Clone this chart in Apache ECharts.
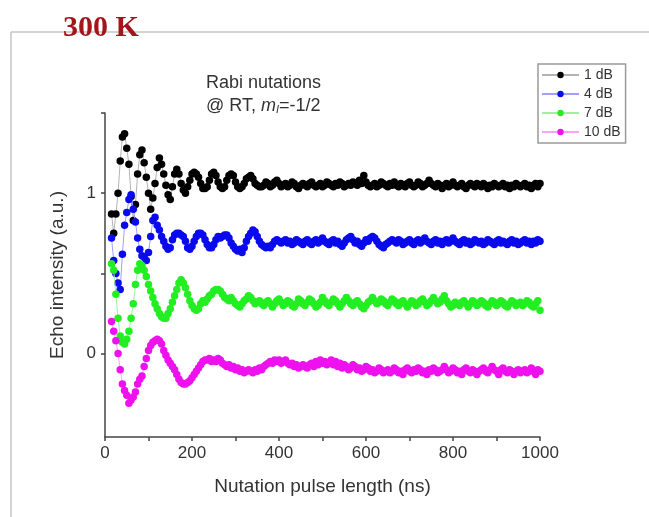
<!DOCTYPE html>
<html>
<head>
<meta charset="utf-8">
<script src="https://cdn.jsdelivr.net/npm/echarts@6/dist/echarts.min.js"></script>
<style>
html,body{margin:0;padding:0;background:#fff;}
#chart{width:649px;height:517px;}
</style>
</head>
<body>
<div id="chart"></div>
<script>
// Nutation pulse length (ns)
const xs = [
15,20,25,30,35,40,45,50,55,60,
65,70,75,80,85,90,95,100,105,110,
115,120,125,130,135,140,145,150,155,160,
165,170,175,180,185,190,195,200,205,210,
215,220,225,230,235,240,245,250,255,260,
265,270,275,280,285,290,295,300,305,310,
315,320,325,330,335,340,345,350,355,360,
365,370,375,380,385,390,395,400,405,410,
415,420,425,430,435,440,445,450,455,460,
465,470,475,480,485,490,495,500,505,510,
515,520,525,530,535,540,545,550,555,560,
565,570,575,580,585,590,595,600,605,610,
615,620,625,630,635,640,645,650,655,660,
665,670,675,680,685,690,695,700,705,710,
715,720,725,730,735,740,745,750,755,760,
765,770,775,780,785,790,795,800,805,810,
815,820,825,830,835,840,845,850,855,860,
865,870,875,880,885,890,895,900,905,910,
915,920,925,930,935,940,945,950,955,960,
965,970,975,980,985,990,995,1000
];
const db1 = [
0.87,0.75,0.87,1.00,1.20,1.35,1.37,1.28,1.18,0.98,
0.83,0.93,1.12,1.24,1.27,1.19,1.10,1.00,0.90,0.97,
1.06,1.16,1.22,1.18,1.12,1.05,0.99,0.96,1.04,1.12,
1.15,1.12,1.06,1.02,1.00,1.04,1.08,1.12,1.13,1.12,
1.10,1.06,1.03,1.03,1.04,1.08,1.12,1.13,1.11,1.07,
1.04,1.03,1.04,1.08,1.11,1.12,1.11,1.07,1.04,1.03,
1.04,1.06,1.09,1.10,1.11,1.09,1.06,1.05,1.04,1.04,
1.05,1.07,1.06,1.04,1.05,1.07,1.08,1.06,1.04,1.05,
1.06,1.04,1.05,1.07,1.06,1.04,1.03,1.05,1.06,1.05,
1.04,1.06,1.07,1.05,1.04,1.05,1.06,1.04,1.05,1.07,
1.06,1.05,1.04,1.06,1.05,1.07,1.06,1.04,1.05,1.06,
1.05,1.07,1.06,1.05,1.08,1.06,1.11,1.07,1.05,1.04,
1.05,1.06,1.04,1.05,1.07,1.06,1.05,1.04,1.06,1.05,
1.07,1.05,1.04,1.06,1.05,1.04,1.06,1.07,1.05,1.04,
1.05,1.07,1.06,1.04,1.05,1.06,1.08,1.06,1.05,1.04,
1.06,1.05,1.03,1.05,1.06,1.04,1.05,1.07,1.05,1.04,
1.05,1.06,1.04,1.03,1.05,1.06,1.05,1.04,1.06,1.05,
1.04,1.06,1.05,1.03,1.05,1.04,1.06,1.05,1.04,1.05,
1.06,1.04,1.05,1.03,1.05,1.04,1.06,1.05,1.04,1.05,
1.06,1.04,1.05,1.03,1.05,1.06,1.04,1.06
];
const db4 = [
0.72,0.58,0.50,0.44,0.40,0.62,0.80,0.88,0.96,0.99,
0.90,0.82,0.72,0.65,0.61,0.60,0.58,0.63,0.73,0.83,
0.85,0.80,0.77,0.73,0.70,0.67,0.65,0.66,0.71,0.74,
0.75,0.75,0.74,0.73,0.70,0.66,0.65,0.67,0.70,0.73,
0.75,0.75,0.74,0.71,0.68,0.66,0.66,0.68,0.71,0.73,
0.72,0.73,0.74,0.74,0.72,0.69,0.67,0.65,0.64,0.65,
0.63,0.66,0.70,0.73,0.75,0.77,0.76,0.73,0.70,0.68,
0.67,0.66,0.67,0.66,0.68,0.70,0.71,0.70,0.69,0.70,
0.71,0.69,0.70,0.68,0.69,0.71,0.70,0.69,0.68,0.70,
0.71,0.69,0.68,0.70,0.71,0.69,0.70,0.72,0.70,0.69,
0.68,0.70,0.71,0.69,0.70,0.68,0.67,0.69,0.71,0.72,
0.73,0.71,0.69,0.70,0.68,0.67,0.69,0.71,0.70,0.72,
0.73,0.72,0.70,0.68,0.67,0.66,0.68,0.69,0.70,0.71,
0.70,0.69,0.71,0.70,0.68,0.69,0.70,0.71,0.69,0.68,
0.70,0.71,0.69,0.70,0.72,0.70,0.69,0.68,0.70,0.71,
0.69,0.70,0.68,0.70,0.71,0.69,0.70,0.72,0.70,0.69,
0.68,0.70,0.71,0.69,0.70,0.68,0.69,0.71,0.70,0.69,
0.70,0.68,0.69,0.71,0.70,0.69,0.68,0.70,0.71,0.69,
0.70,0.69,0.68,0.70,0.71,0.69,0.70,0.68,0.69,0.70,
0.71,0.69,0.70,0.68,0.70,0.69,0.71,0.70
];
const db7 = [
0.56,0.52,0.37,0.22,0.11,0.07,0.06,0.09,0.14,0.22,
0.31,0.43,0.52,0.56,0.55,0.52,0.48,0.43,0.39,0.35,
0.31,0.28,0.25,0.23,0.22,0.22,0.25,0.28,0.32,0.36,
0.40,0.44,0.46,0.44,0.41,0.37,0.33,0.30,0.28,0.27,
0.28,0.31,0.33,0.32,0.34,0.36,0.37,0.39,0.40,0.40,
0.39,0.37,0.35,0.34,0.33,0.35,0.33,0.31,0.30,0.29,
0.31,0.33,0.34,0.36,0.35,0.33,0.31,0.32,0.33,0.31,
0.30,0.32,0.33,0.31,0.29,0.31,0.33,0.34,0.32,0.30,
0.31,0.33,0.32,0.30,0.29,0.31,0.34,0.33,0.31,0.30,
0.32,0.34,0.33,0.31,0.29,0.30,0.32,0.35,0.33,0.31,
0.30,0.32,0.34,0.33,0.31,0.29,0.31,0.33,0.35,0.33,
0.31,0.30,0.32,0.33,0.31,0.29,0.28,0.30,0.32,0.33,
0.35,0.33,0.31,0.32,0.34,0.33,0.31,0.30,0.32,0.34,
0.33,0.31,0.30,0.32,0.33,0.31,0.29,0.31,0.33,0.32,
0.30,0.31,0.33,0.34,0.32,0.30,0.31,0.33,0.35,0.33,
0.31,0.32,0.34,0.36,0.33,0.31,0.29,0.30,0.32,0.31,
0.30,0.32,0.33,0.31,0.29,0.31,0.33,0.32,0.30,0.31,
0.33,0.32,0.30,0.29,0.31,0.33,0.32,0.30,0.31,0.33,
0.32,0.30,0.29,0.31,0.33,0.32,0.30,0.31,0.32,0.30,
0.31,0.33,0.32,0.30,0.29,0.31,0.33,0.27
];
const db10 = [
0.20,0.14,0.08,0.00,-0.10,-0.19,-0.23,-0.26,-0.31,-0.29,
-0.27,-0.24,-0.19,-0.16,-0.14,-0.08,-0.03,0.02,0.05,0.07,
0.08,0.09,0.08,0.06,0.02,-0.01,-0.04,-0.06,-0.08,-0.10,
-0.13,-0.16,-0.18,-0.19,-0.19,-0.18,-0.17,-0.15,-0.13,-0.11,
-0.09,-0.07,-0.05,-0.04,-0.04,-0.03,-0.05,-0.04,-0.05,-0.03,
-0.04,-0.06,-0.07,-0.08,-0.07,-0.09,-0.08,-0.10,-0.09,-0.11,
-0.10,-0.12,-0.11,-0.10,-0.11,-0.12,-0.10,-0.11,-0.09,-0.10,
-0.08,-0.07,-0.06,-0.05,-0.06,-0.04,-0.05,-0.04,-0.06,-0.05,
-0.04,-0.06,-0.07,-0.06,-0.08,-0.07,-0.09,-0.08,-0.07,-0.08,
-0.09,-0.07,-0.06,-0.08,-0.05,-0.07,-0.04,-0.06,-0.05,-0.07,
-0.06,-0.04,-0.07,-0.05,-0.08,-0.06,-0.09,-0.07,-0.08,-0.10,
-0.09,-0.07,-0.08,-0.10,-0.09,-0.11,-0.10,-0.08,-0.09,-0.11,
-0.10,-0.12,-0.11,-0.09,-0.10,-0.12,-0.11,-0.10,-0.12,-0.11,
-0.09,-0.10,-0.12,-0.11,-0.13,-0.10,-0.09,-0.11,-0.12,-0.10,
-0.11,-0.09,-0.10,-0.12,-0.11,-0.13,-0.10,-0.11,-0.09,-0.10,
-0.12,-0.11,-0.10,-0.08,-0.10,-0.12,-0.11,-0.09,-0.10,-0.12,
-0.11,-0.13,-0.10,-0.09,-0.11,-0.12,-0.10,-0.11,-0.13,-0.11,
-0.10,-0.09,-0.11,-0.12,-0.10,-0.08,-0.10,-0.11,-0.13,-0.10,
-0.09,-0.11,-0.12,-0.10,-0.11,-0.13,-0.11,-0.10,-0.12,-0.11,
-0.10,-0.12,-0.11,-0.09,-0.11,-0.13,-0.10,-0.11
];
const seriesNames = ['1 dB', '4 dB', '7 dB', '10 dB'];
const xTicks = [0, 200, 400, 600, 800, 1000];
const yTickValues = [0, 0.5, 1, 1.5];
const yLabelValues = [0, 1];

const allValues = [db1, db4, db7, db10];
const markerColors = ['#000000', '#0a0aee', '#22ee22', '#ee11ee'];
const lineColors = ['#b4b4b4', '#a0a0ff', '#a0f0a0', '#ffa0ff'];

const chart = echarts.init(document.getElementById('chart'), null, {renderer: 'canvas'});
const FONT = '"Liberation Sans", Arial, sans-serif';

const series = allValues.map((vals, i) => ({
  name: seriesNames[i],
  type: 'line',
  data: vals.map((v, k) => [xs[k], v]),
  symbol: 'circle',
  symbolSize: 7.5,
  showSymbol: true,
  itemStyle: {color: markerColors[i]},
  lineStyle: {color: lineColors[i], width: 1},
  z: 2 + i
}));

chart.setOption({
  animation: false,
  backgroundColor: '#ffffff',
  grid: {left: 105, right: 109, top: 113, bottom: 80, containLabel: false},
  legend: {
    data: seriesNames.map(n => ({name: n, itemStyle: {}})),
    orient: 'vertical',
    left: 538,
    top: 64,
    itemWidth: 37,
    itemHeight: 8,
    itemGap: 5,
    padding: [4, 5, 4, 3],
    borderColor: '#9a9a9a',
    borderWidth: 1.5,
    textStyle: {fontFamily: FONT, fontSize: 14, color: '#333'}
  },
  xAxis: {
    type: 'value',
    min: 0, max: 1000, interval: 200,
    name: 'Nutation pulse length (ns)',
    nameLocation: 'middle',
    nameGap: 40,
    nameTextStyle: {fontFamily: FONT, fontSize: 19, color: '#333'},
    axisLine: {show: true, onZero: false, lineStyle: {color: '#444', width: 1.5}},
    axisTick: {show: true, length: 4, lineStyle: {color: '#444', width: 1.5}},
    minorTick: {show: true, splitNumber: 2, length: 4, lineStyle: {color: '#444', width: 1.5}},
    axisLabel: {fontFamily: FONT, fontSize: 17, color: '#333', margin: 8,
      formatter: v => xTicks.includes(v) ? String(v) : ''},
    splitLine: {show: false}
  },
  yAxis: {
    type: 'value',
    min: -0.52, max: 1.5,
    name: 'Echo intensity (a.u.)',
    nameLocation: 'middle',
    nameGap: 38,
    nameTextStyle: {fontFamily: FONT, fontSize: 19, color: '#333'},
    axisLine: {show: true, onZero: false, lineStyle: {color: '#444', width: 1.5}},
    axisTick: {show: true, length: 4, customValues: yTickValues, lineStyle: {color: '#444', width: 1.5}},
    axisLabel: {fontFamily: FONT, fontSize: 17, color: '#333', margin: 9, customValues: yLabelValues},
    splitLine: {show: false}
  },
  graphic: [
    {type: 'line', shape: {x1: 11, y1: 32, x2: 649, y2: 32}, style: {stroke: '#c4c4c4', lineWidth: 1.5}, z: 1},
    {type: 'line', shape: {x1: 11, y1: 32, x2: 11, y2: 517}, style: {stroke: '#c4c4c4', lineWidth: 1.5}, z: 1},
    {type: 'text', left: 63, top: 13, z: 10,
      style: {text: '300 K', fill: '#a3141b', font: 'bold 30px "Liberation Serif", "Times New Roman", serif'}},
    {type: 'text', left: 206, top: 74, z: 10,
      style: {text: 'Rabi nutations', fill: '#333', font: '18px ' + FONT}},
    {type: 'text', left: 206, top: 97, z: 10,
      style: {
        text: '{n|@ RT, }{i|m}{s|I}{n|=-1/2}',
        fill: '#333',
        font: '18px ' + FONT,
        rich: {
          n: {fontFamily: FONT, fontSize: 18, fill: '#333'},
          i: {fontFamily: FONT, fontSize: 18, fontStyle: 'italic', fill: '#333'},
          s: {fontFamily: FONT, fontSize: 11, fontStyle: 'italic', fill: '#333', padding: [8, 0, 0, 0]}
        }
      }}
  ],
  series: series
});
</script>
</body>
</html>
